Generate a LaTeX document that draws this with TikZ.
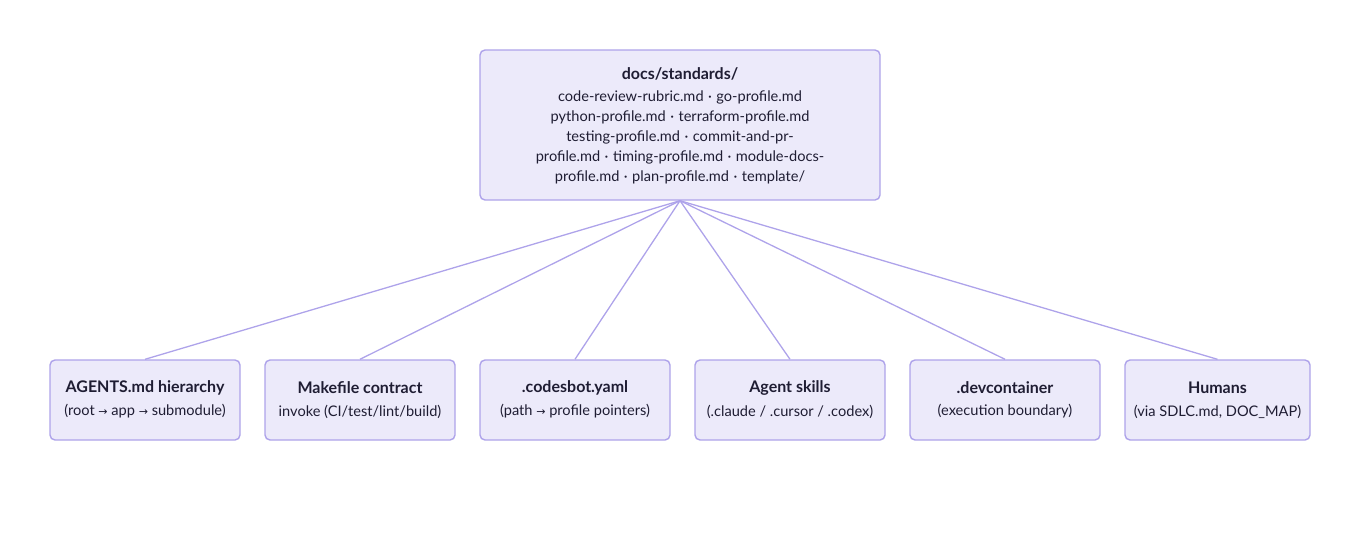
\documentclass[tikz,border=0pt]{standalone}
\usepackage{fontspec}
\setmainfont{Lato}
\newfontfamily\arrowfont{DejaVu Sans}
\definecolor{boxfill}{HTML}{ECEAFA}
\definecolor{boxline}{HTML}{AEA3EA}
\definecolor{edgecol}{HTML}{AEA3EA}
\definecolor{txt}{HTML}{1F1D33}
\newcommand{\ra}{{\arrowfont\fontsize{11}{12}\selectfont →}}
\newcommand{\md}{\kern0.05em·\kern0.05em}
\tikzset{
  box/.style={draw=boxline, fill=boxfill, line width=1.4pt, rounded corners=5pt, inner sep=0pt},
  ttl/.style={font=\fontsize{16}{18}\selectfont\bfseries, text=txt, anchor=center, yshift=-1.5pt},
  sub/.style={font=\fontsize{14.6}{16}\selectfont, text=txt, anchor=center, yshift=-1.5pt},
  conn/.style={draw=edgecol, line width=1.3pt}
}
\begin{document}
\begin{tikzpicture}[x=1pt,y=-1pt]
\useasboundingbox (0,0) rectangle (1360,544);
% top box
\node[box, minimum width=400pt, minimum height=150pt] (top) at (680,125) {};
\node[ttl] (toptitle) at (680,72) {docs/standards/};
\node[sub] (l1) at (680,96) {code-review-rubric.md \md{} go-profile.md};
\node[sub] (l2) at (680,116) {python-profile.md \md{} terraform-profile.md};
\node[sub] (l3) at (680,136) {testing-profile.md \md{} commit-and-pr-};
\node[sub] (l4) at (680,156) {profile.md \md{} timing-profile.md \md{} module-docs-};
\node[sub] (l5) at (680,176) {profile.md \md{} plan-profile.md \md{} template/};
% bottom boxes
\node[box, minimum width=190pt, minimum height=80pt] (b1) at (145,400) {};
\node[box, minimum width=190pt, minimum height=80pt] (b2) at (360,400) {};
\node[box, minimum width=190pt, minimum height=80pt] (b3) at (575,400) {};
\node[box, minimum width=190pt, minimum height=80pt] (b4) at (790,400) {};
\node[box, minimum width=190pt, minimum height=80pt] (b5) at (1005,400) {};
\node[box, minimum width=185pt, minimum height=80pt] (b6) at (1217.5,400) {};
\node[ttl] (t1) at (145,386) {AGENTS.md hierarchy};
\node[sub] (s1) at (145,410) {(root \ra{} app \ra{} submodule)};
\node[ttl] (t2) at (360,386) {Makefile contract};
\node[sub] (s2) at (360,410) {invoke (CI/test/lint/build)};
\node[ttl] (t3) at (575,386) {.codesbot.yaml};
\node[sub] (s3) at (575,410) {(path \ra{} profile pointers)};
\node[ttl] (t4) at (790,386) {Agent skills};
\node[sub] (s4) at (790,410) {(.claude / .cursor / .codex)};
\node[ttl] (t5) at (1005,386) {.devcontainer};
\node[sub] (s5) at (1005,410) {(execution boundary)};
\node[ttl] (t6) at (1217.5,386) {Humans};
\node[sub] (s6) at (1217.5,410) {(via SDLC.md, DOC\_MAP)};
% connectors
\foreach \b in {b1,b2,b3,b4,b5,b6}{
  \draw[conn] (top.south) -- (\b.north);
}
\end{tikzpicture}
\end{document}
